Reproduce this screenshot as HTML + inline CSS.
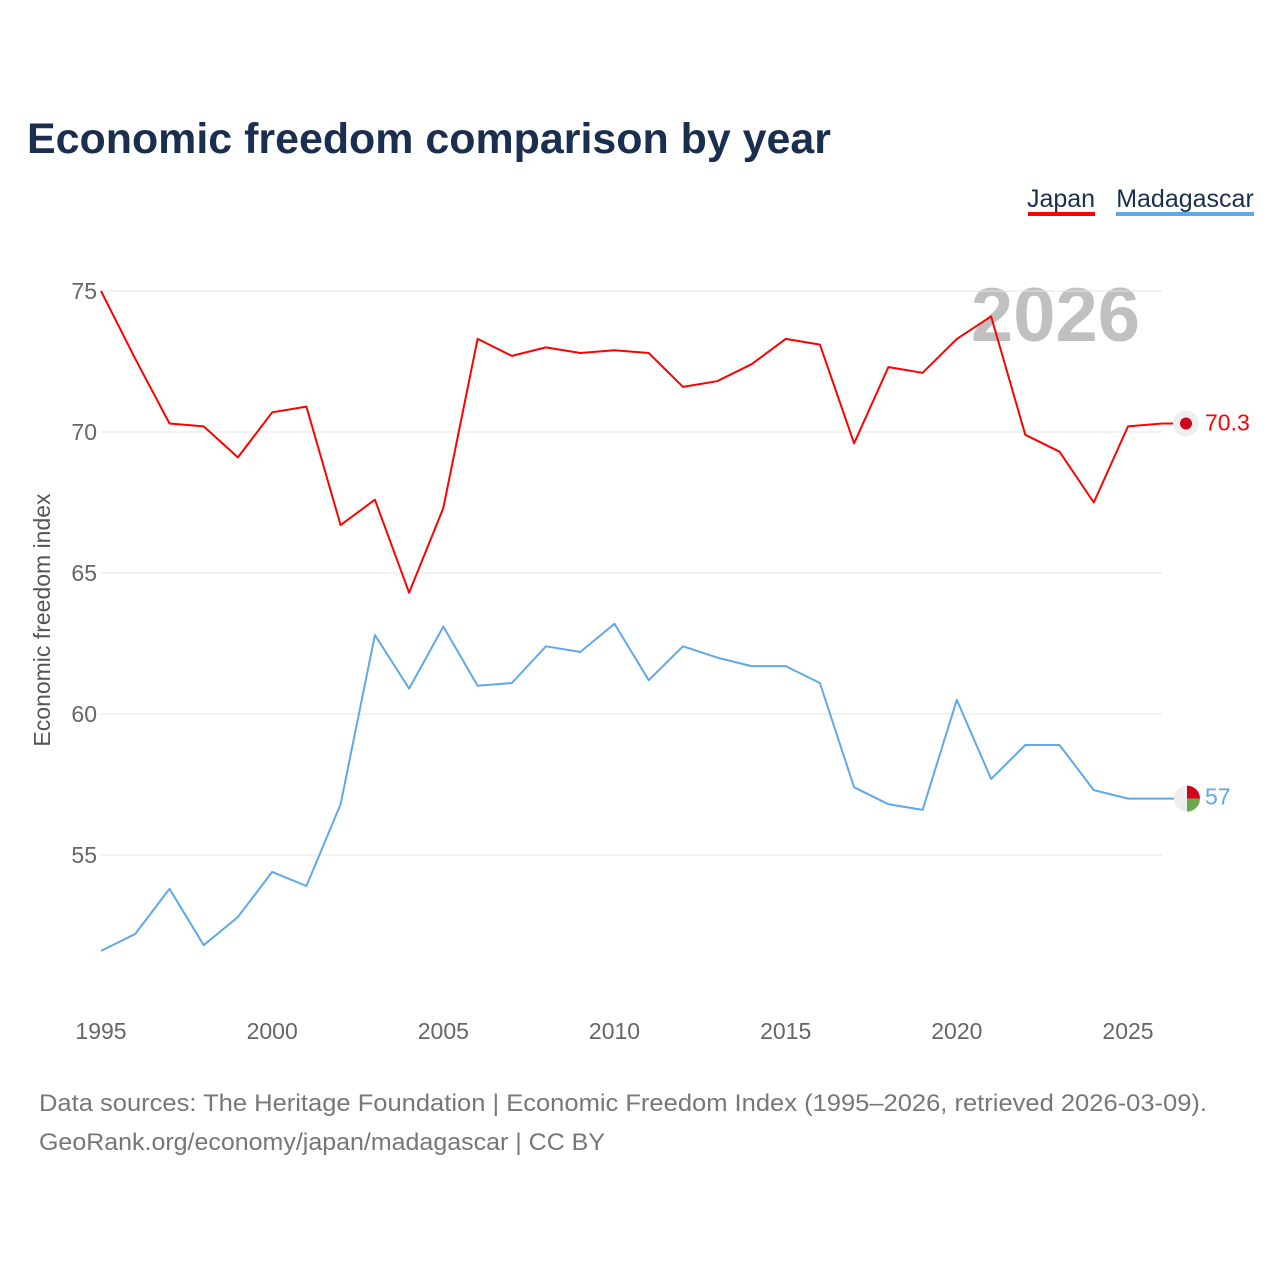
<!DOCTYPE html>
<html><head><meta charset="utf-8">
<style>
body{margin:0;background:#fff;width:1280px;height:1280px;overflow:hidden;font-family:"Liberation Sans",sans-serif}
svg text{font-family:"Liberation Sans",sans-serif}
</style></head>
<body>
<svg id="chart" width="1280" height="1280" viewBox="0 0 1280 1280" xmlns="http://www.w3.org/2000/svg">
<text x="27" y="153" font-size="43" font-weight="bold" fill="#1a2e50" textLength="804" lengthAdjust="spacingAndGlyphs">Economic freedom comparison by year</text>
<g>
<text x="1061" y="207" font-size="25" fill="#1a2e50" text-anchor="middle">Japan</text>
<rect x="1028" y="212" width="67" height="4" fill="#ff0000"/>
<text x="1185" y="207" font-size="25" fill="#1a2e50" text-anchor="middle">Madagascar</text>
<rect x="1116" y="212" width="138" height="4" fill="#5fa8ea"/>
</g>
<text x="1140" y="341" font-size="76" font-weight="bold" fill="#c0c0c0" text-anchor="end">2026</text>
<g id="grid"></g>
<g id="yticks"></g>
<g id="xticks"></g>
<text transform="translate(50,620) rotate(-90)" font-size="23" fill="#555" text-anchor="middle">Economic freedom index</text>
<g id="series"></g>
<g id="endmarks"></g>
<text x="39" y="1111" font-size="24" fill="#777" textLength="1168" lengthAdjust="spacingAndGlyphs">Data sources: The Heritage Foundation | Economic Freedom Index (1995–2026, retrieved 2026-03-09).</text>
<text x="39" y="1150" font-size="24" fill="#777" textLength="566" lengthAdjust="spacingAndGlyphs">GeoRank.org/economy/japan/madagascar | CC BY</text>
</svg>
<script>
const years=[];for(let y=1995;y<=2026;y++)years.push(y);
const japan=[75.0,72.6,70.3,70.2,69.1,70.7,70.9,66.7,67.6,64.3,67.3,73.3,72.7,73.0,72.8,72.9,72.8,71.6,71.8,72.4,73.3,73.1,69.6,72.3,72.1,73.3,74.1,69.9,69.3,67.5,70.2,70.3];
const madagascar=[51.6,52.2,53.8,51.8,52.8,54.4,53.9,56.8,62.8,60.9,63.1,61.0,61.1,62.4,62.2,63.2,61.2,62.4,62.0,61.7,61.7,61.1,57.4,56.8,56.6,60.5,57.7,58.9,58.9,57.3,57.0,57.0];
const yTicks=[55,60,65,70,75];
const xTicks=[1995,2000,2005,2010,2015,2020,2025];
const NS="http://www.w3.org/2000/svg";
const xS=y=>101+(y-1995)*(1128-101)/30;
const yS=v=>855-(v-55)*(855-291)/20;
function mk(t,a,p){const e=document.createElementNS(NS,t);for(const k in a)e.setAttribute(k,a[k]);p.appendChild(e);return e;}
const grid=document.getElementById('grid'),yt=document.getElementById('yticks'),xt=document.getElementById('xticks');
yTicks.forEach(v=>{
 const l=mk('line',{x1:101,x2:1162,y1:yS(v),y2:yS(v),stroke:'#e6e6e6','stroke-width':1},grid);
 
 
 const t=mk('text',{x:97,y:yS(v)+8,'font-size':23,fill:'#666','text-anchor':'end'},yt);t.textContent=v;
 
 
});
xTicks.forEach(v=>{
 const t=mk('text',{x:xS(v),y:1039,'font-size':23,fill:'#666','text-anchor':'middle'},xt);t.textContent=v;
 
 
});
const ser=document.getElementById('series');
function line(vals,color,name){
 const d=vals.map((v,i)=>(i?'L':'M')+xS(years[i]).toFixed(1)+' '+yS(v).toFixed(1)).join(' ');
 const p=mk('path',{d:d,fill:'none',stroke:color,'stroke-width':2,'stroke-linejoin':'round'},ser);
 
 
}
line(japan,'#ff0000','japan-line');
line(madagascar,'#5fa8ea','madagascar-line');
const em=document.getElementById('endmarks');
const jl=japan[japan.length-1],ml=madagascar[madagascar.length-1];
const jy=yS(jl),my=yS(ml),ex=xS(2026);
let c=mk('line',{x1:ex,x2:1175,y1:jy,y2:jy,stroke:'#ff0000','stroke-width':2},em);


c=mk('line',{x1:ex,x2:1175,y1:my,y2:my,stroke:'#5fa8ea','stroke-width':2},em);


const jf=mk('g',{},em);


mk('circle',{cx:1186,cy:jy,r:13,fill:'#eeeeee'},jf);
mk('circle',{cx:1186,cy:jy,r:6,fill:'#d0021b'},jf);
const mf=mk('g',{},em);


mk('path',{d:`M1187 ${my-13} A13 13 0 0 0 1187 ${my+13} Z`,fill:'#eeeeee'},mf);
mk('path',{d:`M1187 ${my-13} A13 13 0 0 1 1200 ${my} L1187 ${my} Z`,fill:'#d0021b'},mf);
mk('path',{d:`M1187 ${my+13} A13 13 0 0 0 1200 ${my} L1187 ${my} Z`,fill:'#6aa84f'},mf);
let t=mk('text',{x:1205,y:jy+7,'font-size':23,fill:'#ff0000'},em);t.textContent=jl;


t=mk('text',{x:1205,y:my+6,'font-size':23,fill:'#5fa8ea'},em);t.textContent=ml;


</script>
</body></html>
